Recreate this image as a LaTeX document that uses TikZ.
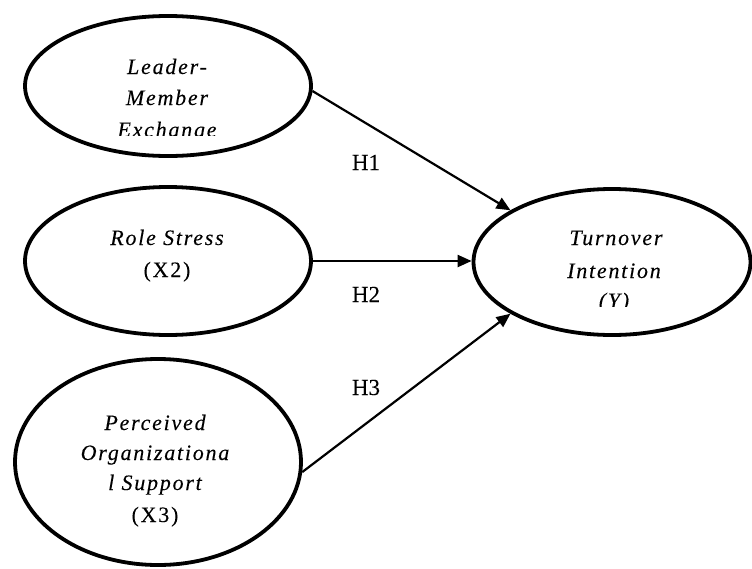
\documentclass[tikz,border=0pt]{standalone}
\usepackage{fontspec}
\setmainfont{Liberation Serif}
\newfontfamily\lsfont{Liberation Serif}[LetterSpace=8,FakeBold=0.1]
\newfontfamily\hfont{Liberation Serif}[FakeBold=0.1]
\usetikzlibrary{shapes.geometric,arrows.meta}
\tikzset{
  var/.style={ellipse,draw,line width=3.8pt,inner sep=0pt},
  lbl/.style={anchor=base,inner sep=0pt,font=\lsfont\fontsize{22}{28}\selectfont\itshape},
  lblup/.style={anchor=base,inner sep=0pt,font=\lsfont\fontsize{22}{28}\selectfont},
  hyp/.style={anchor=base,inner sep=0pt,font=\hfont\fontsize{23}{28}\selectfont},
  path/.style={line width=2.2pt,-{Triangle[length=14pt,width=12pt]}}
}
\begin{document}
\begin{tikzpicture}[x=1pt,y=-1pt]
\clip (0,0) rectangle (752,568);
% ellipses
\node[var,minimum width=286pt,minimum height=140pt] (lmx) at (168,86) {};
\node[var,minimum width=286pt,minimum height=148pt] (rs) at (168,261) {};
\node[var,minimum width=286pt,minimum height=206pt] (pos) at (158,462) {};
\node[var,minimum width=277pt,minimum height=146pt] (ti) at (612,262) {};
% texts
\begin{scope}
\clip (0,0) rectangle (330,135);
\node[lbl] (lmx1) at (167,74) {Leader-};
\node[lbl] (lmx2) at (167,105) {Member};
\node[lbl] (lmx3) at (167,137) {Exchange};
\end{scope}
\node[lbl] (rs1) at (167,245) {Role Stress};
\node[lblup] (rs2) at (167,277) {(X2)};
\node[lbl] (pos1) at (155,430) {Perceived};
\node[lbl] (pos2) at (155,460) {Organizationa};
\node[lbl] (pos3) at (155,490) {l Support};
\node[lblup] (pos4) at (155,522) {(X3)};
\begin{scope}
\clip (450,180) rectangle (752,306);
\node[lbl] (ti1) at (616,245) {Turnover};
\node[lbl] (ti2) at (614,278) {Intention};
\node[lbl] (ti3) at (614,308) {(Y)};
\end{scope}
% connectors
\draw[path] (lmx.-2) -- (ti.153);
\draw[path] (rs.east) -- (rs.east -| ti.west);
\draw[path] (pos.-4) -- (ti.207);
% hypothesis labels
\node[hyp] (h1) at (366,170) {H1};
\node[hyp] (h2) at (366,302) {H2};
\node[hyp] (h3) at (366,395) {H3};
\end{tikzpicture}
\end{document}
